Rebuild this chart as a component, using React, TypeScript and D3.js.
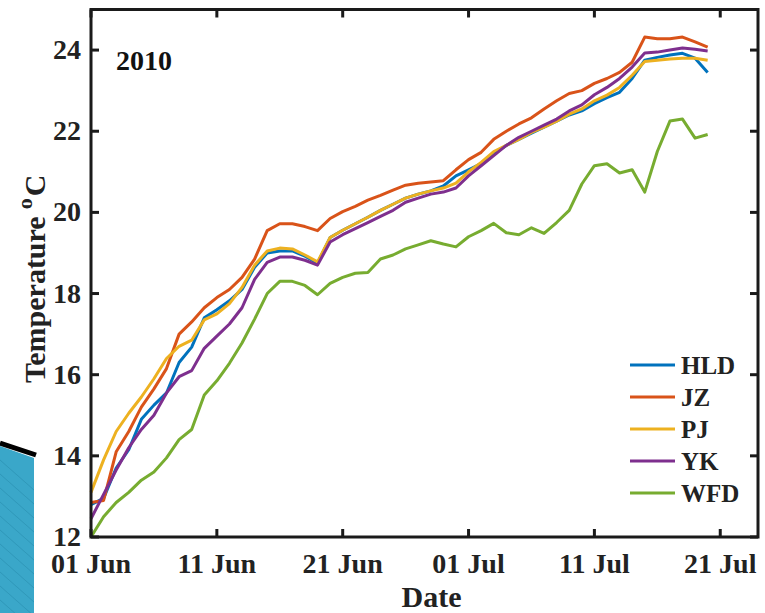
import React from "react";
import * as d3 from "d3";

const WIDTH = 765;
const HEIGHT = 613;

const seriesNames = ["HLD", "JZ", "PJ", "YK", "WFD"];
const seriesColors = ["#0072BD", "#D95319", "#EDB120", "#7E2F8E", "#77AC30"];

// daily values from 01 Jun 2010 to 20 Jul 2010
const hld = [12.8, 12.95, 13.7, 14.15, 14.9, 15.25, 15.55, 16.3, 16.68, 17.4, 17.6, 17.82, 18.1, 18.65, 19.0, 19.05, 19.05, 18.92, 18.75, 19.38, 19.56, 19.72, 19.88, 20.05, 20.2, 20.35, 20.45, 20.53, 20.65, 20.9, 21.05, 21.2, 21.45, 21.65, 21.8, 21.95, 22.1, 22.25, 22.4, 22.5, 22.68, 22.83, 22.96, 23.3, 23.75, 23.82, 23.88, 23.92, 23.8, 23.45];
const jz = [12.85, 12.9, 14.1, 14.6, 15.2, 15.65, 16.15, 17.0, 17.3, 17.65, 17.9, 18.1, 18.4, 18.85, 19.55, 19.72, 19.72, 19.65, 19.55, 19.85, 20.02, 20.15, 20.3, 20.42, 20.55, 20.67, 20.72, 20.75, 20.78, 21.05, 21.3, 21.48, 21.8, 22.0, 22.18, 22.33, 22.55, 22.75, 22.93, 23.0, 23.18, 23.3, 23.45, 23.7, 24.32, 24.28, 24.28, 24.32, 24.2, 24.07];
const pj = [13.1, 13.9, 14.6, 15.05, 15.45, 15.9, 16.4, 16.7, 16.85, 17.35, 17.5, 17.75, 18.15, 18.7, 19.05, 19.12, 19.1, 18.95, 18.78, 19.38, 19.56, 19.72, 19.88, 20.05, 20.2, 20.35, 20.45, 20.53, 20.6, 20.72, 21.0, 21.23, 21.5, 21.65, 21.8, 21.97, 22.1, 22.25, 22.42, 22.55, 22.75, 22.89, 23.08, 23.38, 23.72, 23.75, 23.78, 23.8, 23.8, 23.75];
const yk = [12.45, 13.05, 13.65, 14.2, 14.65, 15.0, 15.55, 15.95, 16.1, 16.65, 16.95, 17.25, 17.65, 18.35, 18.77, 18.9, 18.9, 18.82, 18.7, 19.27, 19.45, 19.6, 19.75, 19.9, 20.05, 20.25, 20.35, 20.45, 20.5, 20.6, 20.9, 21.15, 21.4, 21.65, 21.85, 22.0, 22.15, 22.3, 22.5, 22.65, 22.9, 23.08, 23.3, 23.58, 23.93, 23.95, 24.0, 24.05, 24.02, 23.98];
const wfd = [12.0, 12.5, 12.85, 13.1, 13.4, 13.6, 13.95, 14.4, 14.65, 15.5, 15.85, 16.28, 16.78, 17.37, 18.0, 18.3, 18.3, 18.2, 17.97, 18.25, 18.4, 18.5, 18.52, 18.85, 18.95, 19.1, 19.2, 19.3, 19.22, 19.15, 19.4, 19.55, 19.73, 19.5, 19.45, 19.62, 19.48, 19.75, 20.05, 20.7, 21.15, 21.2, 20.97, 21.05, 20.5, 21.5, 22.25, 22.3, 21.83, 21.92];

const seriesValues = [hld, jz, pj, yk, wfd];

const yTicks = [12, 14, 16, 18, 20, 22, 24];
const xTickLabels = ["01 Jun", "11 Jun", "21 Jun", "01 Jul", "11 Jul", "21 Jul"];
const xTickDates = [
  new Date(Date.UTC(2010, 5, 1)),
  new Date(Date.UTC(2010, 5, 11)),
  new Date(Date.UTC(2010, 5, 21)),
  new Date(Date.UTC(2010, 6, 1)),
  new Date(Date.UTC(2010, 6, 11)),
  new Date(Date.UTC(2010, 6, 21)),
];

const startDate = new Date(Date.UTC(2010, 5, 1));
const endDate = new Date(Date.UTC(2010, 6, 24));

const FONT = "'Liberation Serif', 'Times New Roman', serif";

export default function App() {
  const x = d3.scaleUtc().domain([startDate, endDate]).range([91, 758]);
  const y = d3.scaleLinear().domain([12, 25]).range([537, 9.5]);
  const [x0, x1] = x.range();
  const [y0, y1] = y.range();

  const dayDate = (i: number) => d3.utcDay.offset(startDate, i);
  const line = d3
    .line<number>()
    .x((_, i) => x(dayDate(i)))
    .y((v) => y(v));

  const tickLen = 8;
  const legendX = 630;
  const legendY = 365;
  const legendStep = 32;

  return (
    <div style={{ position: "absolute", left: 0, top: 0 }}>
      <svg width={WIDTH} height={HEIGHT} style={{ display: "block", background: "#fff" }}>
        {/* slide decoration */}
        <polygon points="0,446 34,458 34,613 0,613" fill="#3AA7C9" />
        {d3.range(0, 12).map((k) => (
          <line
            key={k}
            x1={0}
            y1={460 + k * 14}
            x2={34}
            y2={490 + k * 14}
            stroke="#2a8fb0"
            strokeWidth={1}
            opacity={0.6}
          />
        ))}
        <line x1={0} y1={443} x2={36} y2={455} stroke="#000" strokeWidth={5} />

        {/* series */}
        <g fill="none" strokeWidth={3} strokeLinejoin="round">
          {seriesValues.map((vals, k) => (
            <path key={seriesNames[k]} d={line(vals) || ""} stroke={seriesColors[k]} />
          ))}
        </g>

        {/* frame */}
        <rect x={x0} y={y1} width={x1 - x0} height={y0 - y1} fill="none" stroke="#1a1a1a" strokeWidth={3} />

        {/* y ticks */}
        {yTicks.map((t) => (
          <g key={t}>
            <line x1={x0} x2={x0 + tickLen} y1={y(t)} y2={y(t)} stroke="#1a1a1a" strokeWidth={3} />
            <line x1={x1} x2={x1 - tickLen} y1={y(t)} y2={y(t)} stroke="#1a1a1a" strokeWidth={3} />
            <text
              x={x0 - 10}
              y={y(t) + 9}
              textAnchor="end"
              fontFamily={FONT}
              fontWeight="bold"
              fontSize={28}
              fill="#222"
            >
              {t}
            </text>
          </g>
        ))}

        {/* x ticks */}
        {xTickDates.map((dt, i) => (
          <g key={i}>
            <line x1={x(dt)} x2={x(dt)} y1={y0} y2={y0 - tickLen} stroke="#1a1a1a" strokeWidth={3} />
            <line x1={x(dt)} x2={x(dt)} y1={y1} y2={y1 + tickLen} stroke="#1a1a1a" strokeWidth={3} />
            <text
              x={x(dt)}
              y={573}
              textAnchor="middle"
              fontFamily={FONT}
              fontWeight="bold"
              fontSize={28}
              fill="#222"
            >
              {xTickLabels[i]}
            </text>
          </g>
        ))}

        {/* axis labels */}
        <text
          x={(x0 + x1) / 2 + 7}
          y={607}
          textAnchor="middle"
          fontFamily={FONT}
          fontWeight="bold"
          fontSize={30}
          fill="#222"
        >
          Date
        </text>
        <text
          transform="translate(45, 383) rotate(-90)"
          textAnchor="start"
          fontFamily={FONT}
          fontWeight="bold"
          fontSize={30}
          fill="#222"
        >
          Temperature
          <tspan fontSize={22} dx={7} dy={-13}>o</tspan>
          <tspan dx={2} dy={13}>C</tspan>
        </text>

        {/* year label */}
        <text x={116} y={70} fontFamily={FONT} fontWeight="bold" fontSize={28} fill="#111">
          2010
        </text>

        {/* legend */}
        {seriesNames.map((name, k) => (
          <g key={name}>
            <line
              x1={legendX}
              x2={legendX + 45}
              y1={legendY + k * legendStep}
              y2={legendY + k * legendStep}
              stroke={seriesColors[k]}
              strokeWidth={3}
            />
            <text
              x={legendX + 51}
              y={legendY + k * legendStep + 9}
              fontFamily={FONT}
              fontWeight="bold"
              fontSize={25}
              fill="#222"
            >
              {name}
            </text>
          </g>
        ))}
      </svg>
    </div>
  );
}
